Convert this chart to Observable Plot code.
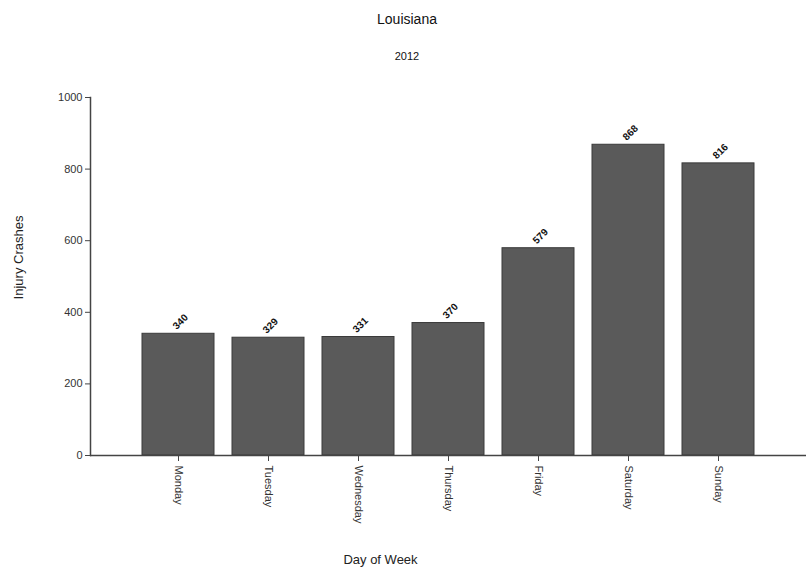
<!DOCTYPE html>
<html>
<head>
<meta charset="utf-8">
<script src="https://cdn.jsdelivr.net/npm/d3@7"></script>
<script src="https://cdn.jsdelivr.net/npm/@observablehq/plot@0.6"></script>
<style>
  body { margin: 0; background: #fff; font-family: "Liberation Sans", Arial, sans-serif; }
  #wrap { width: 806px; height: 575px; position: relative; }
  #title { position: absolute; top: 11px; left: 0; width: 814px; text-align: center; font-size: 14px; color: #111; }
  #subtitle { position: absolute; top: 50px; left: 0; width: 814px; text-align: center; font-size: 11px; color: #111; }
  #chart { position: absolute; top: 80px; left: 0; }
</style>
</head>
<body>
<div id="wrap">
  <div id="title">Louisiana</div>
  <div id="subtitle">2012</div>
  <div id="chart"></div>
</div>
<script>
const days = ["Monday", "Tuesday", "Wednesday", "Thursday", "Friday", "Saturday", "Sunday"];
const crashes = [340, 329, 331, 370, 579, 868, 816];
const yTicks = [0, 200, 400, 600, 800, 1000];

const data = days.map((d, i) => ({day: d, value: crashes[i]}));

const chart = Plot.plot({
  width: 806,
  height: 495,
  marginTop: 17,
  marginBottom: 120,
  marginLeft: 90,
  marginRight: 0,
  style: {fontFamily: "Liberation Sans, Arial, sans-serif", fontSize: "11px", color: "#333", background: "white"},
  x: {domain: days, paddingInner: 0.2, paddingOuter: 0.57, label: null},
  y: {domain: [0, 1000], label: null},
  marks: [
    Plot.barY(data, {x: "day", y: "value", fill: "#5a5a5a", stroke: "#3a3a3a", strokeWidth: 1}),
    Plot.ruleY([0], {stroke: "#444", strokeWidth: 1.5}),
    Plot.frame({anchor: "left", stroke: "#444", strokeWidth: 1.5}),
    Plot.axisY({ticks: yTicks, tickFormat: d => String(d), tickSize: 5, tickPadding: 3, label: null, fontSize: 11, stroke: "#444"}),
    Plot.axisX({tickSize: 6, tickRotate: 90, tickPadding: 4, label: null, fontSize: 11, stroke: "#444"}),
    Plot.text(data, {x: "day", y: "value", text: d => String(d.value), rotate: -45, dy: -12, dx: 2,
      fontSize: 10, fontWeight: "bold", fill: "#111"}),
    Plot.text(["Day of Week"], {frameAnchor: "bottom-left", dx: 290, dy: 108, fontSize: 13, fill: "#222", textAnchor: "middle"}),
    Plot.text(["Injury Crashes"], {frameAnchor: "left", dx: -72, dy: -19, rotate: -90, fontSize: 13, fill: "#222", textAnchor: "middle"})
  ]
});
document.getElementById("chart").appendChild(chart);
</script>
</body>
</html>
